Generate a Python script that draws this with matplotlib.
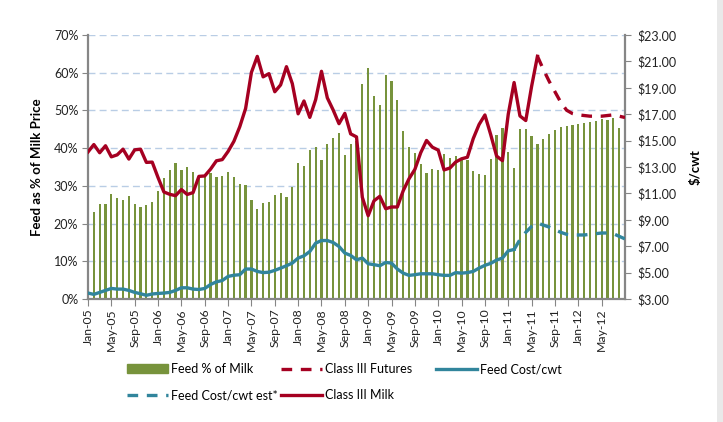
import numpy as np
import pandas as pd
import matplotlib
matplotlib.use("Agg")
import matplotlib.pyplot as plt
from matplotlib.lines import Line2D
from matplotlib.patches import Patch, Rectangle

plt.rcParams['font.family'] = ['Lato', 'DejaVu Sans']

# months on the category axis (Jan-05 .. Sep-12)
months = pd.date_range('2005-01-01', periods=93, freq='MS')
month_labels = [m.strftime('%b-%y') for m in months]

# Feed % of milk price (bars), one per month, first hidden behind the axis
feed_pct = [np.nan, 23.0, 25.1, 25.1, 27.9, 26.8, 26.3, 27.2, 25.1, 24.4, 24.9, 25.8, 28.7,
            32.1, 34.2, 36.0, 34.1, 35.1, 33.7, 32.8, 32.8, 33.3, 32.4, 32.6, 33.6,
            32.4, 30.6, 30.2, 26.3, 23.9, 25.4, 25.6, 27.6, 28.0, 27.0, 29.8, 36.1,
            35.3, 39.5, 40.2, 36.8, 41.2, 42.8, 44.0, 38.1, 41.1, 42.0, 57.1, 61.3,
            53.7, 51.4, 59.3, 57.8, 52.8, 44.5, 40.2, 38.7, 35.8, 33.3, 34.6, 34.2,
            38.4, 37.5, 37.8, 37.3, 36.8, 33.9, 33.2, 33.0, 37.2, 43.5, 45.3, 39.1,
            34.8, 45.0, 45.0, 43.1, 41.2, 42.5, 43.8, 44.9, 45.7, 45.9, 46.2, 46.4,
            46.6, 47.0, 47.3, 47.6, 47.5, 47.9, 45.4]

# Class III milk price ($/cwt)
class3_milk = [14.14, 14.70, 14.08, 14.61, 13.77, 13.92, 14.35, 13.60, 14.30, 14.35, 13.35, 13.37,
               12.20, 11.11, 10.93, 10.83, 11.29, 10.92, 11.06, 12.29, 12.32, 12.84, 13.47, 13.56,
               14.18, 14.95, 16.05, 17.43, 20.17, 21.38, 19.83, 20.07, 18.70, 19.22, 20.60, 19.32,
               17.03, 18.00, 16.76, 18.10, 20.25, 18.24, 17.32, 16.28, 17.06, 15.51, 15.28, 10.70,
               9.31, 10.44, 10.78, 9.84, 9.97, 9.97, 11.20, 12.11, 12.82, 14.08, 15.01, 14.50,
               14.28, 12.78, 12.92, 13.38, 13.62, 13.74, 15.15, 16.22, 16.94, 15.44, 13.83, 13.48,
               17.00, 19.40, 16.87, 16.52, 19.11, 21.39]
futures_start = 77
class3_futures = [21.39, 20.4, 19.5, 18.7, 17.9, 17.3, 17.05, 16.95, 16.9, 16.85, 16.85,
                  16.85, 16.9, 16.95, 16.85, 16.75]

# Feed cost ($/cwt)
feed_cost = [3.45, 3.35, 3.5, 3.65, 3.8, 3.75, 3.75, 3.65, 3.5, 3.4, 3.28, 3.38,
             3.42, 3.45, 3.5, 3.65, 3.85, 3.85, 3.75, 3.72, 3.8, 4.1, 4.3, 4.4,
             4.71, 4.8, 4.84, 5.27, 5.27, 5.09, 5.0, 5.03, 5.17, 5.34, 5.52, 5.72,
             6.1, 6.27, 6.6, 7.23, 7.43, 7.43, 7.28, 6.98, 6.48, 6.3, 5.97, 6.1,
             5.67, 5.6, 5.52, 5.77, 5.72, 5.27, 4.96, 4.79, 4.84, 4.91, 4.91, 4.91,
             4.84, 4.79, 4.79, 5.0, 4.96, 5.0, 5.09, 5.34, 5.55, 5.7, 5.95, 6.1,
             6.65, 6.75]
est_start = 73
feed_cost_est = [6.75, 7.5, 8.05, 8.5, 8.75, 8.6, 8.45, 8.25, 8.05, 7.9, 7.85, 7.85,
                 7.85, 7.9, 7.95, 8.0, 8.0, 7.95, 7.75, 7.55]

green = '#77933c'
red = '#a50021'
teal = '#31859c'
axis_gray = '#868686'
dash = (3.2, 2.6)

fig = plt.figure(figsize=(7.23, 4.22), dpi=100)
ax = fig.add_axes([88 / 723, 1 - 299 / 422, (625 - 88) / 723, (299 - 35) / 422])
ax2 = ax.twinx()

x_bars = np.arange(len(feed_pct))
ax.bar(x_bars, feed_pct, width=0.38, color=green, zorder=2)
ax.set_ylim(0, 70)
ax.set_yticks(range(0, 71, 10))
ax.set_yticklabels([f'{v}%' for v in range(0, 71, 10)])
ax.set_xlim(0, len(months) - 1)
ax.yaxis.grid(True, color='#b9cde5', linestyle=(0, (5, 3)), linewidth=1)
ax.set_axisbelow(True)

ax2.plot(np.arange(len(class3_milk)), class3_milk, color=red, lw=2.4, zorder=3)
ax2.plot(np.arange(futures_start, futures_start + len(class3_futures)), class3_futures,
         color=red, lw=2.4, dashes=dash, zorder=3)
ax2.plot(np.arange(len(feed_cost)), feed_cost, color=teal, lw=2.4, zorder=3)
ax2.plot(np.arange(est_start, est_start + len(feed_cost_est)), feed_cost_est,
         color=teal, lw=2.4, dashes=dash, zorder=3)
ax2.set_ylim(3, 23)
ax2.set_yticks(range(3, 24, 2))
ax2.set_yticklabels([f'${v:.2f}' for v in range(3, 24, 2)])

tick_pos = np.arange(0, 89, 4)
ax.set_xticks(tick_pos)
ax.set_xticklabels([month_labels[i] for i in tick_pos], rotation=90)

for a in (ax, ax2):
    a.spines['top'].set_visible(False)
    for s in ('left', 'right', 'bottom'):
        a.spines[s].set_color(axis_gray)
        a.spines[s].set_linewidth(1.6)
ax.spines['right'].set_visible(False)
ax2.spines['left'].set_visible(False)
ax2.spines['bottom'].set_visible(False)

ax.tick_params(axis='y', direction='out', length=4, color=axis_gray, labelsize=9, pad=3,
               labelcolor='#222222')
ax.tick_params(axis='x', direction='out', length=5, color=axis_gray, labelsize=8.8, pad=2,
               labelcolor='#222222')
ax2.tick_params(axis='y', direction='out', length=4, color=axis_gray, labelsize=9, pad=5,
                labelcolor='#222222')

ax.set_ylabel('Feed as % of Milk Price', fontsize=9.5, fontweight='bold', labelpad=8)
ax2.set_ylabel('$/cwt', fontsize=9.5, fontweight='bold', labelpad=9)

# legend: three columns placed like the original
col1 = [Patch(color=green), Line2D([], [], color=teal, lw=2.4, dashes=dash)]
col2 = [Line2D([], [], color=red, lw=2.4, dashes=dash), Line2D([], [], color=red, lw=2.4)]
col3 = [Line2D([], [], color=teal, lw=2.4)]
names1 = ['Feed % of Milk', 'Feed Cost/cwt est*']
names2 = ['Class III Futures', 'Class III Milk']
names3 = ['Feed Cost/cwt']
for xpos, h, n in ((127, col1, names1), (281, col2, names2), (436, col3, names3)):
    fig.legend(h, n, loc='upper left', bbox_to_anchor=(xpos / 723, 1 - 363 / 422),
               frameon=False, fontsize=9, handlelength=3.3, handletextpad=0.25,
               borderpad=0, borderaxespad=0, labelspacing=1.15)

# light frame of the source slide
fig.add_artist(Rectangle((717 / 723, 0), 6 / 723, 1, transform=fig.transFigure,
                         color='#e9e9e9', lw=0))

fig.savefig('out.png', dpi=100)
